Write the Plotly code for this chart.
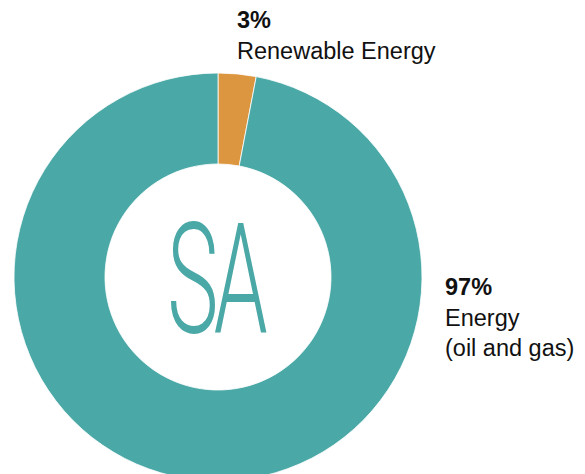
import plotly.graph_objects as go

labels = ["Renewable Energy", "Energy (oil and gas)"]
values = [3, 97]
label_pct = ["3%", "97%"]
label_text = ["Renewable Energy", "Energy<br>(oil and gas)"]
center_text = "SA"

colors = ["#DC963F", "#4AA8A6"]

W, H = 585, 474
HF = 490  # figure slightly taller than the window; bottom of ring is cut off as in the reference
cx, cy, r = 218, 277, 204

fig = go.Figure(go.Pie(
    labels=labels, values=values, sort=False, direction="clockwise", rotation=0,
    hole=0.554, textinfo="none", hoverinfo="label+percent",
    marker=dict(colors=colors, line=dict(color="white", width=0.8)),
    domain=dict(x=[(cx - r) / W, (cx + r) / W], y=[(HF - (cy + r)) / HF, (HF - (cy - r)) / HF]),
    showlegend=False,
))

font_lab = dict(family="Liberation Sans, Arial, sans-serif", size=23.5, color="#111111")
fig.add_annotation(x=235 / W, y=1 - 5 / HF, xref="paper", yref="paper", xanchor="left", yanchor="top",
                   align="left", showarrow=False, font=font_lab,
                   text=f"<b>{label_pct[0]}</b><br>{label_text[0]}")
fig.add_annotation(x=443 / W, y=1 - 272 / HF, xref="paper", yref="paper", xanchor="left", yanchor="top",
                   align="left", showarrow=False, font=font_lab,
                   text=f"<b>{label_pct[1]}</b><br>{label_text[1]}")
fig.add_annotation(x=(cx - 4) / W, y=1 - 280 / HF, xref="paper", yref="paper", xanchor="center", yanchor="middle",
                   showarrow=False,
                   font=dict(family="Roboto, sans-serif", size=154, color="#4AA8A6", weight=300),
                   text=center_text)

fig.update_layout(width=W, height=HF, margin=dict(l=0, r=0, t=0, b=0),
                  paper_bgcolor="white", plot_bgcolor="white")

post = """
document.body.style.margin = '0';
document.body.style.overflow = 'hidden';
document.documentElement.style.overflow = 'hidden';
var t = document.querySelectorAll('.annotation-text');
t.forEach(function(el){ if (el.textContent === 'SA') {
  el.style.transformBox = 'fill-box'; el.style.transformOrigin = 'center';
  el.style.letterSpacing = '-8px';
  el.style.transform = 'scaleX(0.56)'; } });
"""
fig.write_html("out.html", post_script=post, config={"displayModeBar": False})
